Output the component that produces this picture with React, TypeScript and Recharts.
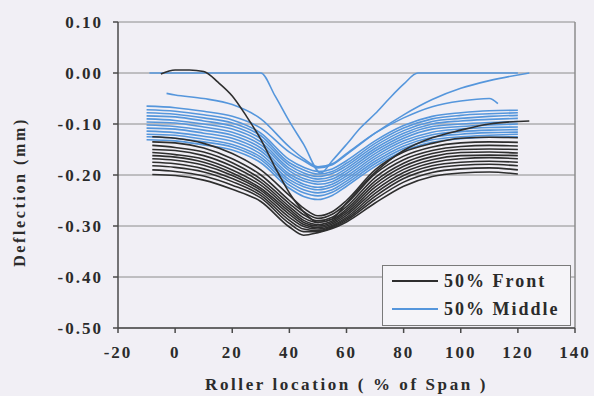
import { LineChart, Line, XAxis, YAxis, CartesianGrid, ReferenceLine, Label } from 'recharts';

// roller positions (% of span) where deflections were read
const FRONT_X = [-8, 0, 10, 20, 30, 40, 45, 50, 55, 60, 70, 80, 90, 100, 110, 120];
const MIDDLE_X = [-10, 0, 10, 20, 30, 40, 45, 50, 55, 60, 70, 80, 90, 100, 110, 120];

// 50% Front runs (mm)
const F1 = [-0.125, -0.128, -0.138, -0.158, -0.19, -0.24, -0.265, -0.28, -0.272, -0.25, -0.19, -0.155, -0.138, -0.128, -0.126, -0.127];
const F2 = [-0.135, -0.137, -0.147, -0.168, -0.2, -0.25, -0.272, -0.285, -0.277, -0.256, -0.198, -0.163, -0.145, -0.137, -0.135, -0.136];
const F3 = [-0.142, -0.146, -0.155, -0.176, -0.208, -0.256, -0.278, -0.29, -0.283, -0.262, -0.205, -0.17, -0.152, -0.144, -0.142, -0.143];
const F4 = [-0.15, -0.152, -0.162, -0.183, -0.214, -0.262, -0.284, -0.293, -0.287, -0.267, -0.212, -0.177, -0.158, -0.15, -0.149, -0.15];
const F5 = [-0.156, -0.16, -0.169, -0.19, -0.22, -0.267, -0.289, -0.297, -0.29, -0.271, -0.218, -0.183, -0.164, -0.156, -0.155, -0.157];
const F6 = [-0.162, -0.165, -0.175, -0.196, -0.226, -0.272, -0.293, -0.3, -0.293, -0.275, -0.224, -0.189, -0.17, -0.162, -0.161, -0.162];
const F7 = [-0.168, -0.171, -0.181, -0.201, -0.23, -0.277, -0.297, -0.303, -0.296, -0.279, -0.23, -0.195, -0.176, -0.168, -0.166, -0.168];
const F8 = [-0.175, -0.178, -0.188, -0.207, -0.235, -0.283, -0.301, -0.306, -0.299, -0.283, -0.236, -0.201, -0.182, -0.175, -0.173, -0.175];
const F9 = [-0.182, -0.185, -0.194, -0.213, -0.24, -0.289, -0.306, -0.309, -0.301, -0.286, -0.242, -0.207, -0.188, -0.181, -0.179, -0.182];
const F10 = [-0.19, -0.193, -0.202, -0.22, -0.245, -0.295, -0.311, -0.311, -0.303, -0.289, -0.248, -0.214, -0.195, -0.188, -0.186, -0.19];
const F11 = [-0.199, -0.201, -0.21, -0.228, -0.252, -0.302, -0.318, -0.313, -0.305, -0.292, -0.255, -0.222, -0.203, -0.196, -0.194, -0.198];
const FRONT_ZERO_X = [-5, 0, 5, 10, 15, 20, 25, 30, 35, 40, 45, 50, 55, 60, 70, 80, 90, 100, 110, 124];
const FRONT_ZERO = [-0.002, 0.006, 0.006, 0.003, -0.018, -0.045, -0.085, -0.13, -0.185, -0.235, -0.272, -0.293, -0.286, -0.255, -0.195, -0.152, -0.127, -0.112, -0.1, -0.094];

// 50% Middle runs (mm)
const M1 = [-0.072, -0.075, -0.082, -0.092, -0.118, -0.17, -0.185, -0.193, -0.188, -0.172, -0.133, -0.103, -0.085, -0.078, -0.074, -0.073];
const M2 = [-0.078, -0.081, -0.088, -0.098, -0.123, -0.176, -0.19, -0.198, -0.193, -0.177, -0.138, -0.108, -0.09, -0.083, -0.08, -0.078];
const M3 = [-0.084, -0.086, -0.094, -0.104, -0.129, -0.181, -0.196, -0.203, -0.197, -0.182, -0.143, -0.113, -0.095, -0.089, -0.085, -0.083];
const M4 = [-0.09, -0.093, -0.1, -0.11, -0.135, -0.187, -0.201, -0.208, -0.203, -0.187, -0.148, -0.118, -0.1, -0.094, -0.091, -0.089];
const M5 = [-0.096, -0.098, -0.106, -0.116, -0.141, -0.192, -0.207, -0.213, -0.208, -0.192, -0.153, -0.123, -0.105, -0.1, -0.097, -0.095];
const M6 = [-0.102, -0.105, -0.112, -0.122, -0.147, -0.198, -0.212, -0.218, -0.213, -0.197, -0.158, -0.128, -0.11, -0.105, -0.102, -0.1];
const M7 = [-0.108, -0.11, -0.118, -0.128, -0.153, -0.203, -0.218, -0.224, -0.218, -0.202, -0.163, -0.133, -0.116, -0.11, -0.107, -0.106];
const M8 = [-0.114, -0.117, -0.124, -0.134, -0.159, -0.209, -0.223, -0.229, -0.223, -0.207, -0.168, -0.138, -0.121, -0.115, -0.112, -0.111];
const M9 = [-0.12, -0.122, -0.13, -0.14, -0.165, -0.214, -0.229, -0.235, -0.229, -0.212, -0.173, -0.143, -0.126, -0.12, -0.117, -0.116];
const M10 = [-0.125, -0.128, -0.135, -0.145, -0.17, -0.22, -0.235, -0.241, -0.234, -0.217, -0.178, -0.148, -0.131, -0.125, -0.122, -0.12];
const M11 = [-0.131, -0.133, -0.141, -0.151, -0.176, -0.226, -0.242, -0.248, -0.24, -0.222, -0.183, -0.153, -0.136, -0.129, -0.126, -0.125];
const MID_TOP_X = [-10, 0, 10, 20, 30, 40, 45, 50, 55, 60, 70, 80, 90, 100, 110, 124];
const MID_TOP = [-0.065, -0.068, -0.075, -0.085, -0.108, -0.155, -0.172, -0.186, -0.18, -0.16, -0.118, -0.082, -0.052, -0.03, -0.015, 0];
const MID_HIGH_X = [-3, 0, 10, 20, 30, 40, 45, 50, 55, 60, 70, 80, 90, 100, 110, 113];
const MID_HIGH = [-0.04, -0.043, -0.05, -0.062, -0.09, -0.145, -0.168, -0.184, -0.178, -0.158, -0.118, -0.088, -0.066, -0.055, -0.05, -0.06];
const MID_ZERO_X = [-9, 0, 10, 20, 30, 35, 40, 45, 51, 55, 60, 65, 70, 75, 80, 85, 90, 100, 110, 120];
const MID_ZERO = [0, 0, 0, 0, 0, -0.045, -0.095, -0.14, -0.196, -0.172, -0.14, -0.107, -0.08, -0.05, -0.022, 0, 0, 0, 0, 0];

const X_TICKS = [-20, 0, 20, 40, 60, 80, 100, 120, 140];
const Y_TICKS = [0.1, 0, -0.1, -0.2, -0.3, -0.4, -0.5];

const zip = (xs: number[], ys: number[]) => xs.map((x, i) => ({ x, y: ys[i] }));

const middleRuns = [
  zip(MIDDLE_X, M1), zip(MIDDLE_X, M2), zip(MIDDLE_X, M3), zip(MIDDLE_X, M4),
  zip(MIDDLE_X, M5), zip(MIDDLE_X, M6), zip(MIDDLE_X, M7), zip(MIDDLE_X, M8),
  zip(MIDDLE_X, M9), zip(MIDDLE_X, M10), zip(MIDDLE_X, M11),
  zip(MID_TOP_X, MID_TOP), zip(MID_HIGH_X, MID_HIGH), zip(MID_ZERO_X, MID_ZERO),
];
const frontRuns = [
  zip(FRONT_X, F1), zip(FRONT_X, F2), zip(FRONT_X, F3), zip(FRONT_X, F4),
  zip(FRONT_X, F5), zip(FRONT_X, F6), zip(FRONT_X, F7), zip(FRONT_X, F8),
  zip(FRONT_X, F9), zip(FRONT_X, F10), zip(FRONT_X, F11),
  zip(FRONT_ZERO_X, FRONT_ZERO),
];

const FONT = '"Liberation Serif", "Times New Roman", serif';
const INK = '#2b2b2b';
const BLUE = '#5596dc';
const BLACK = '#2e2e2e';
const tickStyle = { fontFamily: FONT, fontSize: 17, fontWeight: 700, fill: INK, letterSpacing: 2 };

function LegendBox() {
  const row = (color: string, text: string) => (
    <div style={{ display: 'flex', alignItems: 'center', height: 28 }}>
      <div style={{ width: 46, height: 0, borderTop: `2px solid ${color}`, marginRight: 6 }} />
      <span style={{ fontFamily: FONT, fontWeight: 700, fontSize: 18, letterSpacing: 2, color: INK, whiteSpace: 'nowrap' }}>{text}</span>
    </div>
  );
  return (
    <div
      style={{
        position: 'absolute', left: 382, top: 265, width: 178, height: 58,
        border: '1px solid #7a7a7a', background: '#f5f4f8', padding: '1px 0 0 9px',
      }}
    >
      {row(BLACK, '50% Front')}
      {row(BLUE, '50% Middle')}
    </div>
  );
}

export default function App() {
  return (
    <div style={{ position: 'absolute', left: 0, top: 0, width: 594, height: 396, background: '#f1eff5' }}>
      <LineChart width={594} height={396} margin={{ top: 22, right: 19, bottom: 0, left: 0 }}>
        <CartesianGrid vertical={false} stroke="#8c8c8c" strokeWidth={1} />
        <XAxis
          type="number"
          dataKey="x"
          domain={[-20, 140]}
          ticks={X_TICKS}
          height={68}
          tickSize={5}
          tickMargin={13}
          stroke="#4a4a4a"
          strokeWidth={1.5}
          tick={tickStyle}
          allowDuplicatedCategory={false}
        >
          <Label
            value="Roller location ( % of Span )"
            position="insideBottom"
            offset={6}
            style={{ fontFamily: FONT, fontSize: 17, fontWeight: 700, fill: INK, letterSpacing: 2.6 }}
          />
        </XAxis>
        <YAxis
          type="number"
          dataKey="y"
          domain={[-0.5, 0.1]}
          ticks={Y_TICKS}
          width={118}
          tickSize={5}
          tickMargin={10}
          stroke="#4a4a4a"
          strokeWidth={1.5}
          tick={tickStyle}
          tickFormatter={(v: number) => v.toFixed(2)}
        >
          <Label
            content={() => (
              <text
                x={25}
                y={192}
                transform="rotate(-90 25 192)"
                textAnchor="middle"
                style={{ fontFamily: FONT, fontSize: 16, fontWeight: 700, fill: INK, letterSpacing: 2.6 }}
              >
                Deflection (mm)
              </text>
            )}
          />
        </YAxis>
        <ReferenceLine x={140} stroke="#8c8c8c" strokeWidth={1.5} />
        {middleRuns.map((run, i) => (
          <Line
            key={`m${i}`}
            data={run}
            dataKey="y"
            type="monotone"
            stroke={BLUE}
            strokeWidth={1.6}
            dot={false}
            isAnimationActive={false}
          />
        ))}
        {frontRuns.map((run, i) => (
          <Line
            key={`f${i}`}
            data={run}
            dataKey="y"
            type="monotone"
            stroke={BLACK}
            strokeWidth={1.6}
            dot={false}
            isAnimationActive={false}
          />
        ))}
      </LineChart>
      <LegendBox />
    </div>
  );
}
